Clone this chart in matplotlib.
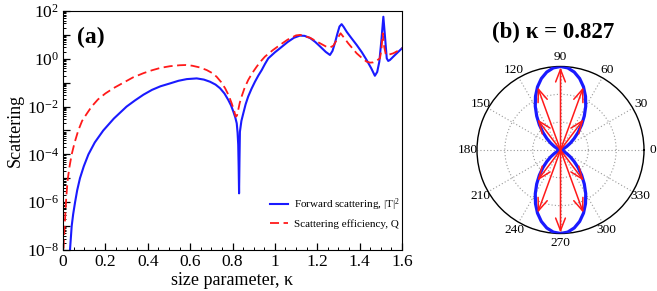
import numpy as np
import matplotlib
matplotlib.use("Agg")
import matplotlib.pyplot as plt
from matplotlib.ticker import FixedLocator, LogLocator, NullFormatter, FuncFormatter, MultipleLocator

plt.rcParams['font.family'] = ['Liberation Serif', 'DejaVu Serif']
plt.rcParams['mathtext.fontset'] = 'custom'
plt.rcParams['mathtext.rm'] = 'Liberation Serif'
plt.rcParams['mathtext.it'] = 'Liberation Serif:italic'
plt.rcParams['mathtext.bf'] = 'Liberation Serif:bold'

# ---------------- data: panel (a) ----------------
kappa_T = [0.033, 0.041, 0.048, 0.057, 0.067, 0.080, 0.098, 0.12, 0.15, 0.19, 0.24, 0.30,
           0.34, 0.38, 0.42, 0.46, 0.505, 0.545, 0.584, 0.631, 0.665, 0.694, 0.72, 0.741,
           0.762, 0.780, 0.793, 0.804, 0.813, 0.82, 0.824, 0.827, 0.829, 0.831, 0.833, 0.835,
           0.842, 0.851, 0.862, 0.874, 0.89, 0.906, 0.922, 0.938, 0.953, 0.969, 1.0, 1.024,
           1.06, 1.09, 1.118, 1.14, 1.166, 1.19, 1.213, 1.24, 1.26, 1.272, 1.284, 1.295,
           1.305, 1.315, 1.325, 1.339, 1.36, 1.386, 1.41, 1.433, 1.455, 1.472, 1.483, 1.493,
           1.503, 1.512, 1.52, 1.528, 1.535, 1.543, 1.56, 1.58, 1.60]
log_T = [-8.0, -7.0, -6.5, -6.0, -5.5, -5.0, -4.5, -4.0, -3.5, -3.0, -2.5, -2.0,
         -1.74, -1.5, -1.3, -1.15, -1.03, -0.92, -0.85, -0.82, -0.87, -0.96, -1.08, -1.23,
         -1.45, -1.72, -1.95, -2.21, -2.45, -2.70, -3.1, -3.6, -4.5, -5.63, -4.2, -3.05,
         -2.6, -2.28, -1.9, -1.58, -1.25, -0.96, -0.70, -0.47, -0.22, 0.02, 0.27, 0.44,
         0.70, 0.88, 0.97, 0.96, 0.87, 0.71, 0.52, 0.29, 0.16, 0.33, 0.68, 1.05,
         1.35, 1.45, 1.33, 1.13, 0.88, 0.58, 0.28, -0.05, -0.40, -0.71, -0.55, -0.12,
         0.8, 1.76, 0.9, 0.02, -0.09, -0.05, 0.10, 0.27, 0.44]

kappa_Q = [0.0, 0.004, 0.008, 0.011, 0.014, 0.018, 0.023, 0.031, 0.041, 0.055, 0.072, 0.09,
           0.112, 0.135, 0.165, 0.2, 0.24, 0.285, 0.33, 0.38, 0.42, 0.46, 0.505, 0.55,
           0.58, 0.61, 0.645, 0.678, 0.703, 0.725, 0.746, 0.765, 0.782, 0.796, 0.807, 0.815,
           0.821, 0.827, 0.834, 0.843, 0.857, 0.874, 0.893, 0.914, 0.933, 0.953, 0.99, 1.024,
           1.06, 1.10, 1.12, 1.166, 1.213, 1.24, 1.26, 1.276, 1.292, 1.31, 1.325, 1.346,
           1.366, 1.386, 1.41, 1.433, 1.45, 1.464, 1.48, 1.496, 1.503, 1.509, 1.516, 1.524,
           1.54, 1.559, 1.58, 1.60]
log_Q = [-8.5, -7.6, -7.0, -6.5, -6.0, -5.5, -5.0, -4.5, -4.0, -3.5, -3.0, -2.6,
         -2.3, -2.0, -1.7, -1.45, -1.22, -1.0, -0.78, -0.6, -0.48, -0.38, -0.31, -0.27,
         -0.26, -0.29, -0.36, -0.47, -0.59, -0.75, -0.97, -1.23, -1.53, -1.86, -2.15, -2.42,
         -2.38, -2.14, -1.85, -1.58, -1.22, -0.89, -0.6, -0.33, -0.11, 0.09, 0.36, 0.58,
         0.80, 0.98, 1.0, 0.88, 0.65, 0.52, 0.47, 0.55, 0.79, 1.07, 0.9, 0.65,
         0.44, 0.23, 0.04, -0.12, -0.16, -0.15, -0.08, 0.02, 0.4, 1.07, 0.5, 0.16,
         0.18, 0.23, 0.33, 0.44]

xticks_a = [0, 0.2, 0.4, 0.6, 0.8, 1.0, 1.2, 1.4, 1.6]
xtick_labels_a = ['0', '0.2', '0.4', '0.6', '0.8', '1', '1.2', '1.4', '1.6']

# ---------------- data: panel (b) ----------------
theta_deg = [0, 5, 10, 15, 20, 25, 30, 35, 40, 45, 50, 55, 60, 65, 70, 75, 80, 85, 90,
             95, 100, 105, 110, 115, 120, 125, 130, 135, 140, 145, 150, 155, 160, 165, 170, 175, 180]
r_pattern_half = [0.0, 0.0, 0.002, 0.009, 0.023, 0.049, 0.088, 0.143, 0.213, 0.297, 0.394, 0.497,
                  0.604, 0.709, 0.805, 0.886, 0.948, 0.987, 1.0,
                  0.987, 0.948, 0.886, 0.805, 0.709, 0.604, 0.497, 0.394, 0.297, 0.213, 0.143,
                  0.088, 0.049, 0.023, 0.009, 0.002, 0.0, 0.0]
arrow_deg = [53, 70, 90, 110, 127, 233, 250, 270, 290, 307]
arrow_len = [0.46, 0.80, 0.99, 0.80, 0.46, 0.46, 0.80, 0.99, 0.80, 0.46]
theta_labels = ['0', '30', '60', '90', '120', '150', '180', '210', '240', '270', '300', '330']

blue = '#1a1aff'
red = '#ff1a1a'

fig = plt.figure(figsize=(6.57, 2.91), dpi=100)

# ---------- panel (a) ----------
ax = fig.add_axes([63/657, 1-250/291, 339/657, 239/291])
ax.semilogy(kappa_T, 10**np.array(log_T), color=blue, lw=1.5,
            label=r'Forward scattering, $|\mathrm{T}|^{2}$')
ax.semilogy(kappa_Q, 10**np.array(log_Q), color=red, lw=1.3, dashes=(5, 2.5),
            label='Scattering efficiency, Q')
ax.set_xlim(0, 1.6)
ax.set_ylim(1e-8, 1e2)
ax.set_xticks(xticks_a)
ax.set_xticklabels(xtick_labels_a)
ax.xaxis.set_minor_locator(MultipleLocator(0.05))
ax.yaxis.set_major_locator(FixedLocator([10.0**k for k in range(-8, 3)]))
ax.yaxis.set_major_formatter(FuncFormatter(
    lambda v, p: (r'$10^{%d}$' % round(np.log10(v))) if round(np.log10(v)) % 2 == 0 else ''))
ax.yaxis.set_minor_locator(LogLocator(base=10, subs=np.arange(2, 10), numticks=20))
ax.yaxis.set_minor_formatter(NullFormatter())
ax.tick_params(which='both', direction='in', top=False, right=False, labelsize=12.5, pad=3)
ax.tick_params(which='major', length=5, width=0.9)
ax.tick_params(which='minor', length=2.5, width=0.7)
ax.set_xlabel('size parameter, κ', fontsize=13, labelpad=1)
ax.set_ylabel('Scattering', fontsize=13, labelpad=2)
ax.text(0.04, 0.89, '(a)', transform=ax.transAxes, fontsize=17, fontweight='bold',
        va='center', ha='left')
leg = ax.legend(loc='upper left', bbox_to_anchor=(0.61, 0.225), frameon=False, fontsize=8,
                handlelength=1.6, handletextpad=0.55, labelspacing=0.6, borderpad=0,
                borderaxespad=0)

# ---------- panel (b) ----------
axp = fig.add_axes([(560.5-83.5)/657, (291-150-83.5)/291, 167/657, 167/291], projection='polar')
th_half = np.deg2rad(theta_deg)
th_full = np.concatenate([th_half, th_half[1:] + np.pi])
r_full = np.concatenate([r_pattern_half, r_pattern_half[1:]])
axp.plot(th_full, r_full, color=blue, lw=2.3, zorder=3)
for a, L in zip(arrow_deg, arrow_len):
    axp.annotate('', xy=(np.deg2rad(a), L), xytext=(0, 0),
                 arrowprops=dict(arrowstyle='->,head_length=0.9,head_width=0.35',
                                 color=red, lw=1.1, shrinkA=0, shrinkB=0), zorder=4)
axp.set_ylim(0, 1.0)
axp.set_rgrids([1/3, 2/3], labels=['', ''])
axp.set_thetagrids(np.arange(0, 360, 30), labels=theta_labels, fontsize=9.6)
axp.grid(True, color='#999999', ls=(0, (1, 2)), lw=0.8)
axp.spines['polar'].set_linewidth(1.0)
axp.tick_params(axis='x', pad=-4)
axp.set_title('(b) κ = 0.827', fontsize=16.5, fontweight='bold', pad=10, x=0.455)

fig.savefig('out.png', dpi=100)
